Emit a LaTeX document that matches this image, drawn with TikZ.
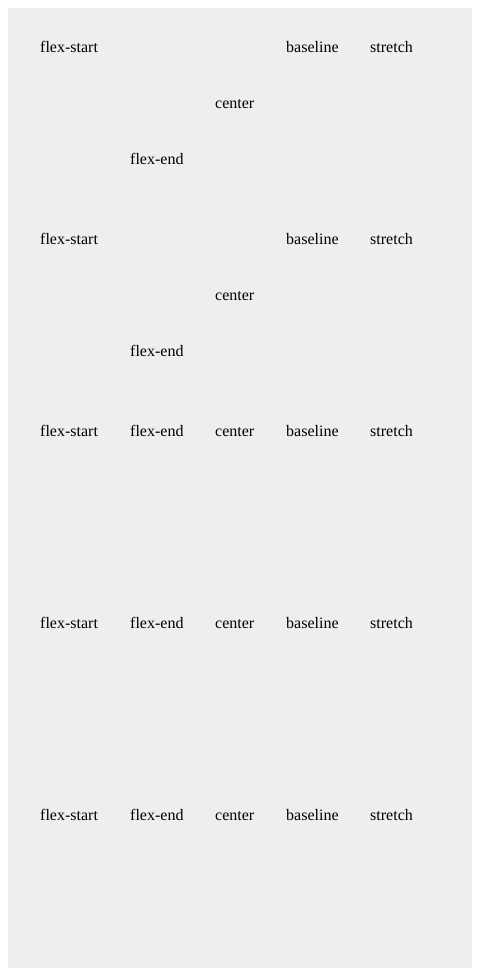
\documentclass[tikz,border=0pt]{standalone}
\usepackage{fontspec}
\setmainfont{Liberation Serif}
\definecolor{boxgray}{HTML}{EEEEEE}
\tikzset{lbl/.style={anchor=base west, inner sep=0pt, font=\fontsize{16}{19}\selectfont}}

\begin{document}
\begin{tikzpicture}[x=1pt,y=-1pt]
        %canvas
        \useasboundingbox (0,0) rectangle (480,976);
        \fill[boxgray] (8,8) rectangle (472,968);
        %first two rows: items at their own heights
        \foreach \r/\dy in {a/0,b/192}{
          \node[lbl] (\r start) at (40,52.5+\dy) {flex-start};
          \node[lbl] (\r end) at (130,164.5+\dy) {flex-end};
          \node[lbl] (\r center) at (215,108.5+\dy) {center};
          \node[lbl] (\r base) at (286,52.5+\dy) {baseline};
          \node[lbl] (\r stretch) at (370,52.5+\dy) {stretch};
        }
        %last three rows: items in one line
        \foreach \r/\y in {c/436.5,d/628.5,e/820.5}{
          \node[lbl] (\r start) at (40,\y) {flex-start};
          \node[lbl] (\r end) at (130,\y) {flex-end};
          \node[lbl] (\r center) at (215,\y) {center};
          \node[lbl] (\r base) at (286,\y) {baseline};
          \node[lbl] (\r stretch) at (370,\y) {stretch};
        }
\end{tikzpicture}
\end{document}
